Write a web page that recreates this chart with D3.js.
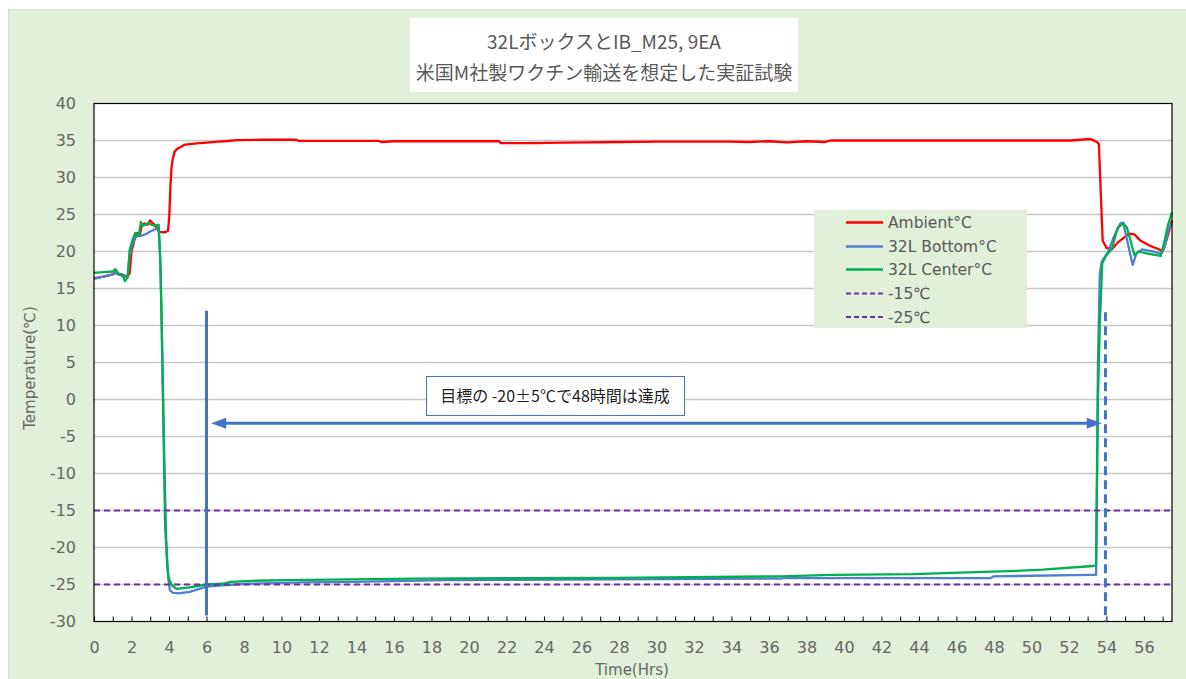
<!DOCTYPE html>
<html>
<head>
<meta charset="utf-8">
<script src="https://cdn.jsdelivr.net/npm/d3@7"></script>
<style>
  body { margin: 0; background: #ffffff; }
  text { font-family: "DejaVu Sans", sans-serif; }
  .jp { font-family: "Noto Sans CJK JP", sans-serif; }
</style>
</head>
<body>
<div id="chart"></div>
<script>
// ---- data (hours, deg C) ----
var ambientTime = [0, 0.5, 1.0, 1.15, 1.3, 1.6, 1.75, 1.9, 2.0, 2.15, 2.3, 2.45, 2.55, 2.7, 2.85, 3.0, 3.1, 3.2, 3.35, 3.45, 3.6, 3.8, 3.95, 4.02, 4.08, 4.14, 4.2, 4.3, 4.45, 4.6, 4.8, 5.1, 5.5, 6.0, 6.6, 7.0, 7.6, 9.0, 10.8, 10.9, 13, 15.2, 15.3, 16, 18, 21.6, 21.7, 23.3, 25, 28.1, 30, 33.9, 35, 36, 37, 38, 39, 39.3, 45, 52.1, 53.1, 53.2, 53.5, 53.6, 53.7, 53.8, 54.0, 54.3, 54.6, 55.0, 55.2, 55.5, 55.8, 56.3, 56.8, 57.0, 57.2, 57.5];
var ambientTemp = [16.4, 16.6, 16.9, 17.2, 16.9, 16.8, 16.6, 17.0, 20.0, 21.5, 22.5, 22.3, 23.5, 23.8, 23.6, 24.2, 23.9, 23.7, 23.2, 22.7, 22.6, 22.6, 22.8, 25, 29, 31.5, 32.5, 33.5, 33.9, 34.1, 34.4, 34.5, 34.6, 34.7, 34.85, 34.9, 35.05, 35.1, 35.1, 34.95, 34.95, 34.95, 34.8, 34.9, 34.9, 34.9, 34.65, 34.65, 34.7, 34.8, 34.85, 34.85, 34.8, 34.9, 34.75, 34.9, 34.8, 35.0, 35.0, 35.0, 35.2, 35.15, 34.8, 34.5, 28, 21.5, 20.5, 20.3, 21.2, 22.0, 22.4, 22.3, 21.5, 20.8, 20.3, 20.0, 21.5, 24.2];

var bottomTime = [0, 0.5, 1.0, 1.15, 1.4, 1.65, 1.8, 1.9, 2.05, 2.2, 2.5, 2.8, 3.0, 3.35, 3.45, 3.55, 3.65, 3.75, 3.85, 3.95, 4.05, 4.2, 4.5, 5.1, 6.0, 6.9, 8.2, 11.2, 13.8, 18.8, 27.7, 36.6, 36.8, 47.8, 48.0, 53.1, 53.45, 53.55, 53.65, 53.75, 54.1, 54.4, 54.75, 54.9, 55.1, 55.4, 55.6, 55.9, 56.5, 56.9, 57.1, 57.3, 57.5];
var bottomTemp = [16.3, 16.6, 16.9, 17.1, 16.8, 16.6, 16.8, 19.5, 21.0, 22.0, 22.1, 22.4, 22.7, 23.1, 22.9, 18, 5, -8, -19, -24, -25.8, -26.1, -26.2, -26.0, -25.3, -25.1, -24.9, -24.7, -24.65, -24.4, -24.3, -24.2, -24.15, -24.15, -23.9, -23.7, -23.7, 5, 17, 18.6, 20.0, 22.0, 23.8, 23.9, 21.6, 18.2, 19.7, 20.3, 20.0, 19.7, 20.5, 22.9, 23.8];

var centerTime = [0, 0.5, 1.0, 1.15, 1.3, 1.5, 1.65, 1.8, 1.9, 2.05, 2.2, 2.4, 2.5, 2.6, 2.9, 3.2, 3.45, 3.52, 3.61, 3.7, 3.79, 3.91, 4.0, 4.15, 4.4, 5.1, 6.0, 6.9, 7.25, 8.4, 10.3, 17.0, 27.7, 36.6, 39.4, 43.7, 46.2, 48.8, 50.6, 53.3, 53.45, 53.55, 53.65, 53.78, 54.0, 54.3, 54.6, 54.9, 55.1, 55.5, 55.7, 56.2, 56.9, 57.1, 57.3, 57.5];
var centerTemp = [17.1, 17.2, 17.3, 17.6, 17.0, 16.9, 16.0, 16.5, 20.2, 21.5, 22.5, 22.2, 24.0, 23.5, 23.8, 23.5, 23.6, 20, 10.3, -3.2, -16.7, -22.6, -24.3, -25.1, -25.6, -25.4, -25.0, -24.9, -24.65, -24.5, -24.4, -24.2, -24.1, -23.9, -23.7, -23.6, -23.4, -23.2, -23.0, -22.5, -22.4, 0, 10.3, 18.4, 19.5, 20.4, 23.2, 23.8, 23.2, 19.5, 20.0, 19.7, 19.4, 21.4, 23.7, 25.3];

var limitValues = [-15, -25];
var legendLabels = ["Ambient°C", "32L Bottom°C", "32L Center°C", "-15℃", "-25℃"];
var titleLines = ["32LボックスとIB_M25, 9EA", "米国M社製ワクチン輸送を想定した実証試験"];
var noteText = "目標の -20±5℃で48時間は達成";
var xLabel = "Time(Hrs)";
var yLabel = "Temperature(℃)";
var xTickValues = d3.range(0, 58, 1);
var yTickValues = d3.range(-30, 41, 5);

// annotation marks, in data units
var startLine = {t: 6, from: 12, to: -29.2};
var endLine = {t: 53.95, from: 11.8, to: -30};
var arrow = {from: 6.25, to: 53.75, y: -3.2};

// ---- layout ----
var W = 1186, H = 679;
var margin = {top: 103.5, right: 14, bottom: 57.5, left: 94};
var width = W - margin.left - margin.right;
var height = H - margin.top - margin.bottom;

var svg = d3.select('#chart')
    .append('svg')
    .attr('width', W)
    .attr('height', H)
    ;

// chart background
svg.append('rect')
    .attr('x', 8.5).attr('y', 9.5)
    .attr('width', W).attr('height', H)
    .attr('fill', '#e2efda')
    .attr('stroke', '#d9d9d9')
    ;

// title box
svg.append('rect')
    .attr('x', 410).attr('y', 18)
    .attr('width', 388).attr('height', 74)
    .attr('fill', '#ffffff')
    ;
svg.selectAll('.title')
    .data(titleLines)
    .enter()
    .append('text')
    .attr('class', 'title jp')
    .attr('x', 604)
    .attr('y', function(d, i){ return 49 + i * 31; })
    .attr('text-anchor', 'middle')
    .attr('font-size', 19)
    .attr('fill', '#595959')
    .text(function(d){ return d; })
    ;

var chart = svg.append('g')
    .attr('transform', 'translate(' + margin.left + ',' + margin.top + ')')
    ;

/*----- SCALES -----*/
var xScale = d3.scaleLinear().domain([0, 57.5]).range([0, width]);
var yScale = d3.scaleLinear().domain([-30, 40]).range([height, 0]);

chart.append('rect')
    .attr('width', width).attr('height', height)
    .attr('fill', '#ffffff')
    ;

// gridlines
chart.selectAll('.grid')
    .data(yTickValues.filter(function(d){ return d > -30 && d < 40; }))
    .enter()
    .append('line')
    .attr('class', 'grid')
    .attr('x1', 0).attr('x2', width)
    .attr('y1', function(d){ return yScale(d); })
    .attr('y2', function(d){ return yScale(d); })
    .attr('stroke', '#c8c8c8')
    .attr('stroke-width', 1.3)
    ;

/*----- AXIS -----*/
var xAxis = d3.axisBottom(xScale)
    .tickValues(xTickValues)
    .tickSize(-5)
    .tickPadding(20)
    .tickFormat(function(d){ return d % 2 === 0 ? String(d) : ''; })
    ;
// plain hyphen for negatives, like the original
var yAxis = d3.axisLeft(yScale)
    .tickValues(yTickValues)
    .tickSize(0)
    .tickPadding(18)
    .tickFormat(function(d){ return String(d); })
    ;

var gx = chart.append('g')
    .attr('transform', 'translate(0,' + height + ')')
    .call(xAxis)
    ;
var gy = chart.append('g').call(yAxis);

gx.select('.domain').remove();
gy.select('.domain').remove();
gx.selectAll('.tick line').attr('stroke', '#000');
[gx, gy].forEach(function(g){
    g.selectAll('text')
        .attr('font-size', 16)
        .attr('fill', '#666666')
        .style('font-family', '"DejaVu Sans", sans-serif')
        ;
});

/*----- DRAWING -----*/
var line = d3.line()
    .x(function(d){ return xScale(d[0]); })
    .y(function(d){ return yScale(d[1]); })
    ;

function pairs(ts, vs){
    return ts.map(function(t, i){ return [t, vs[i]]; });
}

var series = [
    {pts: pairs(ambientTime, ambientTemp), color: '#ff0000'},
    {pts: pairs(bottomTime, bottomTemp), color: '#4f7fcf'},
    {pts: pairs(centerTime, centerTemp), color: '#00b050'}
];

chart.selectAll('.series')
    .data(series)
    .enter()
    .append('path')
    .attr('class', 'series')
    .attr('d', function(d){ return line(d.pts); })
    .attr('fill', 'none')
    .attr('stroke', function(d){ return d.color; })
    .attr('stroke-width', 2.3)
    .attr('stroke-linejoin', 'round')
    ;

chart.selectAll('.limit')
    .data(limitValues)
    .enter()
    .append('line')
    .attr('class', 'limit')
    .attr('x1', 0).attr('x2', width)
    .attr('y1', function(d){ return yScale(d); })
    .attr('y2', function(d){ return yScale(d); })
    .attr('stroke', '#7030a0')
    .attr('stroke-width', 1.8)
    .attr('stroke-dasharray', '6,4')
    ;

// plot frame
chart.append('rect')
    .attr('width', width).attr('height', height)
    .attr('fill', 'none')
    .attr('stroke', '#000')
    .attr('stroke-width', 1.2)
    ;

// annotation: vertical markers
chart.append('line')
    .attr('x1', xScale(startLine.t)).attr('x2', xScale(startLine.t))
    .attr('y1', yScale(startLine.from)).attr('y2', yScale(startLine.to))
    .attr('stroke', '#4472c4')
    .attr('stroke-width', 3)
    ;
chart.append('line')
    .attr('x1', xScale(endLine.t)).attr('x2', xScale(endLine.t))
    .attr('y1', yScale(endLine.from)).attr('y2', yScale(endLine.to))
    .attr('stroke', '#4472c4')
    .attr('stroke-width', 3)
    .attr('stroke-dasharray', '9,5')
    ;

// double headed arrow
var ay = yScale(arrow.y);
var ax1 = xScale(arrow.from), ax2 = xScale(arrow.to);
chart.append('line')
    .attr('x1', ax1 + 12).attr('x2', ax2 - 12)
    .attr('y1', ay).attr('y2', ay)
    .attr('stroke', '#4472c4')
    .attr('stroke-width', 3)
    ;
chart.append('path')
    .attr('d', 'M' + ax1 + ',' + ay + 'L' + (ax1 + 15) + ',' + (ay - 5.5) + 'L' + (ax1 + 15) + ',' + (ay + 5.5) + 'Z'
        + 'M' + ax2 + ',' + ay + 'L' + (ax2 - 15) + ',' + (ay - 5.5) + 'L' + (ax2 - 15) + ',' + (ay + 5.5) + 'Z')
    .attr('fill', '#4472c4')
    ;

// note box
svg.append('rect')
    .attr('x', 426.5).attr('y', 376.5)
    .attr('width', 258).attr('height', 39)
    .attr('fill', '#ffffff')
    .attr('stroke', '#4472c4')
    .attr('stroke-width', 1)
    ;
svg.append('text')
    .attr('class', 'jp')
    .attr('x', 555).attr('y', 402)
    .attr('text-anchor', 'middle')
    .attr('font-size', 16)
    .attr('fill', '#1f1f1f')
    .text(noteText)
    ;

// axis titles
svg.append('text')
    .attr('x', 632).attr('y', 675)
    .attr('text-anchor', 'middle')
    .attr('font-size', 15)
    .attr('fill', '#666666')
    .text(xLabel)
    ;
svg.append('text')
    .attr('transform', 'translate(35,368) rotate(-90)')
    .attr('text-anchor', 'middle')
    .attr('font-size', 15)
    .attr('fill', '#666666')
    .text(yLabel)
    ;

/*----- LEGEND -----*/
var legendColors = ['#ff0000', '#4f7fcf', '#00b050', '#7030a0', '#7030a0'];
var legendRows = [222.5, 246.5, 269.5, 293.5, 317];

svg.append('rect')
    .attr('x', 814).attr('y', 210)
    .attr('width', 213).attr('height', 118)
    .attr('fill', '#e2efda')
    ;
var legend = svg.selectAll('.legend')
    .data(legendLabels)
    .enter()
    .append('g')
    .attr('class', 'legend')
    .attr('transform', function(d, i){ return 'translate(0,' + legendRows[i] + ')'; })
    ;
legend.append('line')
    .attr('x1', 846).attr('x2', 883)
    .attr('stroke', function(d, i){ return legendColors[i]; })
    .attr('stroke-width', function(d, i){ return i < 3 ? 2.3 : 1.8; })
    .attr('stroke-dasharray', function(d, i){ return i < 3 ? null : '5,3'; })
    ;
legend.append('text')
    .attr('x', 888)
    .attr('y', 5.5)
    .attr('font-size', 15.5)
    .attr('fill', '#595959')
    .text(function(d){ return d; })
    ;
</script>
</body>
</html>
